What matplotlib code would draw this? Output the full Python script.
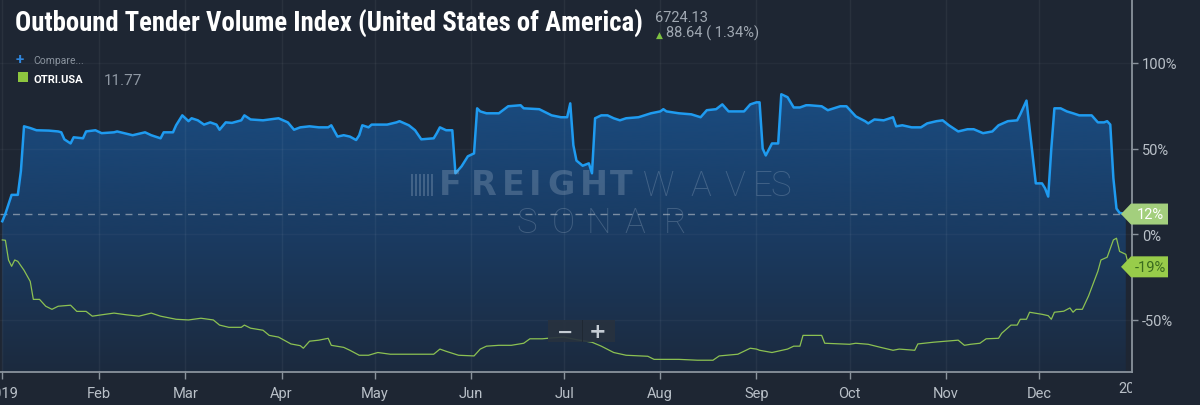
import matplotlib
matplotlib.use('Agg')
import numpy as np
from matplotlib import pyplot as plt
from matplotlib import font_manager
from matplotlib.colors import LinearSegmentedColormap
from matplotlib.patches import Polygon, Rectangle
from matplotlib.transforms import Bbox, TransformedBbox, blended_transform_factory

# =============================================================================
# data (x = days since 2019-01-01, y = change vs. year earlier in %)
# =============================================================================

otvi_points = [
    (0, 7.6), (1, 12), (3, 23), (5, 23), (6, 37), (7, 63), (9, 62), (11, 60.7), (15, 60.5),
    (18, 60), (19, 59.5), (20, 55.4), (22, 53), (23, 56.6), (26, 56), (27, 60), (30, 60.7),
    (32, 59), (36, 59.5), (37, 60), (42, 57.8), (46, 59.5), (48, 57.8), (51, 56), (52, 59.5),
    (55, 59.5), (56, 63.6), (58, 69.4), (60, 66), (61, 67.7), (63, 66.5), (65, 64), (67, 65.3),
    (69, 64), (70, 61), (72, 65.3), (74, 65), (77, 66.5), (78, 69.4), (80, 67), (84, 66.5),
    (86, 67), (89, 67.7), (92, 65.3), (94, 61), (96, 62.4), (99, 63), (102, 62.4), (105, 62.4),
    (106, 63.6), (108, 57), (110, 57.8), (112, 57), (114, 55), (115, 57.8), (116, 63.6),
    (118, 62.4), (119, 64), (124, 64), (127, 65.3), (128, 66), (131, 63.6), (133, 60.7),
    (135, 55.4), (139, 56), (140, 59), (141, 62.4), (143, 60.7), (145, 60.7), (146, 35.6),
    (148, 39.7), (150, 45.5), (152, 47.2), (153, 73.5), (154, 71.7), (156, 70.6), (160, 70.6),
    (163, 74.7), (167, 75.3), (168, 73.5), (173, 73), (177, 69.4), (180, 68.3), (182, 68.3),
    (183, 76.4), (184, 52), (185, 43), (187, 40), (189, 41.4), (190, 35.6), (191, 67.7),
    (193, 69.4), (195, 69.4), (197, 67.7), (199, 66.5), (201, 67.7), (205, 68.3), (209, 70.6),
    (212, 71.7), (213, 73), (214, 71.7), (218, 70.6), (222, 70), (225, 68.3), (227, 72.4),
    (230, 73), (232, 75.8), (234, 71.7), (239, 71.7), (241, 75.8), (243, 77), (244, 77),
    (245, 50), (246, 46), (248, 53), (250, 53), (251, 81.7), (253, 80), (255, 74), (257, 74),
    (259, 75.3), (260, 75.3), (264, 74.7), (266, 72.4), (270, 74.7), (272, 74.7), (275, 68.8),
    (278, 66), (279, 64.7), (281, 67), (284, 66.5), (287, 68.3), (288, 63), (290, 63.6),
    (293, 62.4), (296, 62.4), (298, 64.7), (301, 66), (303, 66.5), (305, 63.6), (308, 60),
    (311, 61.3), (313, 61.3), (316, 59), (319, 60), (321, 63.6), (324, 66), (327, 66.5),
    (328, 70), (330, 78), (331, 61.8), (332, 46), (333, 29.7), (335, 29.7), (336, 26.8),
    (337, 22), (338, 50), (339, 73.5), (341, 73.5), (343, 71.7), (345, 70.6), (347, 69.4),
    (351, 69.4), (353, 65.3), (355, 65.3), (356, 66), (357, 64), (358, 32.7), (359, 15),
    (360, 12.5), (362, 11.8),
]

otri_points = [
    (0, -3.3), (1, -3.5), (2, -15), (3, -18.7), (4, -15), (5, -15.8), (7, -21), (9, -27.5),
    (10, -38), (12, -38), (14, -42), (16, -43.8), (18, -42), (22, -41.4), (24, -45), (27, -45),
    (29, -47.8), (32, -47), (36, -46), (40, -47), (44, -47.8), (48, -46), (51, -47.8),
    (56, -49.6), (60, -50), (64, -49), (68, -50), (70, -53), (73, -54.3), (77, -54.3), (78, -53),
    (80, -54.8), (84, -56), (86, -59), (89, -60), (93, -64), (96, -65), (97, -66.5), (99, -62.4),
    (102, -61.8), (105, -60.7), (106, -64.8), (110, -66), (112, -67.7), (115, -70.6),
    (118, -70.6), (121, -69), (125, -70), (128, -70), (132, -70), (139, -70), (141, -67),
    (143, -68.3), (147, -70.6), (152, -71), (154, -67), (156, -65.3), (160, -64.8), (164, -64.8),
    (168, -63.6), (170, -61), (174, -61), (177, -60.5), (181, -60), (185, -61.5), (190, -63),
    (193, -65.3), (197, -69), (201, -70.6), (208, -71.2), (210, -73), (218, -73), (224, -73.5),
    (229, -73.5), (231, -71), (237, -70), (241, -66.5), (243, -67), (244, -67.7), (248, -69),
    (253, -67), (255, -65.3), (257, -65.3), (258, -59), (264, -59), (265, -63.6), (273, -64.2),
    (275, -63.6), (279, -64.2), (283, -66), (287, -67.7), (289, -67), (294, -67.7), (295, -64),
    (300, -63), (304, -62.4), (308, -61.8), (310, -64.8), (312, -64.2), (315, -63.6), (317, -61),
    (321, -60.7), (322, -57.8), (325, -53), (327, -53), (328, -49.6), (330, -49.6), (331, -45.5),
    (335, -46.7), (337, -47.5), (338, -49.6), (339, -45.5), (342, -44.9), (344, -43),
    (345, -45.5), (346, -43.8), (348, -43.8), (350, -36), (353, -21.6), (354, -15), (356, -13.4),
    (358, -3.3), (359, -2.3), (360, -10), (362, -11.7), (363, -19),
]

month_days = [0, 31, 59, 90, 120, 151, 181, 212, 243, 273, 304, 334]
month_labels = ['2019', 'Feb', 'Mar', 'Apr', 'May', 'Jun', 'Jul', 'Aug', 'Sep', 'Oct', 'Nov', 'Dec']
next_year_day = 365
next_year_label = '2020'
y_ticks = [-50, 0, 50, 100]

title = 'Outbound Tender Volume Index (United States of America)'
last_close = '6724.13'
last_change = '88.64 ( 1.34%)'
compare_label = 'Compare...'
otri_label = 'OTRI.USA'
otri_value = '11.77'

# =============================================================================
# style
# =============================================================================

W, H = 1200, 406
BG = '#1e2633'
BLUE = '#1f9bf0'
GREEN = '#8cc152'
AXIS = '#8a939d'
LABEL = '#b9c0c8'

plt.rcParams['font.family'] = ['Roboto', 'DejaVu Sans']

# pick a condensed bold face for the title if one is installed
installed = {f.name for f in font_manager.fontManager.ttflist}
narrow = [f for f in ['Roboto Condensed', 'Liberation Sans Narrow', 'Open Sans Condensed',
                      'DejaVu Sans Condensed'] if f in installed]
title_family = narrow[0] if narrow else 'Roboto'
title_size = 18


def fx(px):
    return px / W


def fy(py):
    return 1 - py / H


fig = plt.figure(figsize=(W / 100, H / 100), dpi=100, facecolor=BG)
ax = fig.add_axes([0, fy(372.7), fx(1132), 372.7 / H])
ax.set_facecolor(BG)

x_min, x_max = -0.74, 364.0
y_min, y_max = -80.2, 137.3

otvi_x = np.array([p[0] for p in otvi_points], dtype=float)
otvi_y = np.array([p[1] for p in otvi_points], dtype=float)
otri_x = np.array([p[0] for p in otri_points], dtype=float)
otri_y = np.array([p[1] for p in otri_points], dtype=float)

# gradient area under the OTVI line
verts = list(zip(otvi_x, otvi_y)) + [(otvi_x[-1], y_min), (otvi_x[0], y_min)]
area = Polygon(verts, closed=True, facecolor='none', edgecolor='none')
ax.add_patch(area)
cmap = LinearSegmentedColormap.from_list('fill', ['#1c2a3e', '#1a3b62', '#1a4b7f'])
grad = np.linspace(0, 1, 256).reshape(-1, 1)
im = ax.imshow(grad, extent=[x_min, x_max, y_min, 80], origin='lower', aspect='auto',
               cmap=cmap, zorder=1, interpolation='bicubic')
im.set_clip_path(area)
ax.fill_between(otvi_x, otvi_y, 80, where=otvi_y > 80, color='#1a4b7f', zorder=1, lw=0)

ax.axhline(otvi_y[-1], color='#8797aa', lw=1, ls=(0, (5, 4)), zorder=2, alpha=0.9)
ax.plot(otvi_x, otvi_y, color=BLUE, lw=1.8, zorder=4, solid_joinstyle='round')
ax.plot(otri_x, otri_y, color=GREEN, lw=0.9, zorder=4)

ax.set_xlim(x_min, x_max)
ax.set_ylim(y_min, y_max)

ax.set_xticks(month_days)
ax.set_xticklabels(month_labels)
ax.set_yticks(y_ticks)
ax.set_yticklabels(['{}%'.format(v) for v in y_ticks])
ax.yaxis.tick_right()
ax.tick_params(axis='x', direction='out', length=5, width=1, color=AXIS, labelcolor=LABEL,
               labelsize=10.5, pad=5)
ax.tick_params(axis='y', direction='out', length=4, width=1, color=AXIS, labelcolor=LABEL,
               labelsize=10.5, pad=3)
ax.grid(axis='x', color='white', alpha=0.05, lw=1, zorder=3)
ax.grid(axis='y', color='white', alpha=0.035, lw=1, zorder=3)
ax.set_axisbelow(False)
for side in ['top', 'left']:
    ax.spines[side].set_visible(False)
for side in ['right', 'bottom']:
    ax.spines[side].set_color(AXIS)
    ax.spines[side].set_linewidth(1.3)

# first tick of next year, cut at the right axis
lbl = fig.text(next_year_day, fy(389), next_year_label, ha='center', va='center',
               fontsize=10.5, color=LABEL,
               transform=blended_transform_factory(ax.transData, fig.transFigure))
lbl.set_clip_box(TransformedBbox(Bbox([[0, -1], [1, 2]]), ax.transAxes))
lbl.set_clip_on(True)


# =============================================================================
# last value tags
# =============================================================================

def value_tag(value, face, text_color):
    y_fig = fig.transFigure.inverted().transform(ax.transData.transform((0, value)))[1]
    h = 10.5 / H
    pts = [(fx(1121), y_fig), (fx(1131), y_fig - h), (fx(1168), y_fig - h),
           (fx(1168), y_fig + h), (fx(1131), y_fig + h)]
    fig.add_artist(Polygon(pts, closed=True, transform=fig.transFigure, facecolor=face,
                           edgecolor='none', zorder=5))
    fig.text(fx(1150), y_fig, '{:.0f}%'.format(value), ha='center', va='center',
             fontsize=10.5, color=text_color, zorder=6)


value_tag(otvi_y[-1], '#a3cf7d', 'white')
value_tag(otri_y[-1], '#98cc4a', '#3a6b1e')

# =============================================================================
# header texts
# =============================================================================

t = fig.text(fx(15), fy(32), title, fontsize=title_size, fontweight='bold', color='white',
             family=title_family, va='baseline')
# fit the title into its slot left of the quote
fig.canvas.draw()
tw = t.get_window_extent().width
t.set_fontsize(title_size * 630 / tw)

fig.text(fx(655), fy(21.5), last_close, fontsize=10.5, color='#a0a8b2', va='baseline')
fig.text(fx(656), fy(38), '▲', fontsize=6.5, color='#7dc142', va='baseline', family='DejaVu Sans')
fig.text(fx(666), fy(38), last_change, fontsize=10.5, color='#a0a8b2', va='baseline')

fig.text(fx(16), fy(64), '+', fontsize=11, fontweight='bold', color='#2f86de', va='baseline')
fig.text(fx(33), fy(64), compare_label, fontsize=7.5, color='#8a939e', va='baseline')
fig.add_artist(Rectangle((fx(18), fy(83)), fx(10), 10 / H, transform=fig.transFigure,
                         facecolor='#8dc63f', edgecolor='none'))
fig.text(fx(33), fy(83), otri_label, fontsize=8, fontweight='bold', color='white', va='baseline')
fig.text(fx(104), fy(85), otri_value, fontsize=11, color='#8f98a3', va='baseline')

# =============================================================================
# watermark
# =============================================================================

wm = dict(color='#b9c9da', alpha=0.25, ha='center', va='center', zorder=2)
for ch, cx in zip('FREIGHT', [450, 484, 513, 535, 561, 594, 621]):
    fig.text(fx(cx), fy(186), ch, fontsize=24, fontweight='heavy', family='DejaVu Sans', **wm)
for ch, cx in zip('WAVES', [659, 701, 735, 763, 781]):
    fig.text(fx(cx), fy(186), ch, fontsize=25, fontweight='light', **wm)
for ch, cx in zip('SONAR', [527, 563, 599, 635, 675]):
    fig.text(fx(cx), fy(223), ch, fontsize=25, fontweight='light', **wm)
for bx in [411, 415, 419, 423, 427, 431]:
    fig.add_artist(Rectangle((fx(bx), fy(197)), fx(2), 22 / H, transform=fig.transFigure,
                             facecolor='#b9c9da', alpha=0.25, edgecolor='none', zorder=2))

# =============================================================================
# zoom buttons
# =============================================================================

fig.add_artist(Rectangle((fx(548), fy(343)), fx(67), 22 / H, transform=fig.transFigure,
                         facecolor='#28323f', alpha=0.92, edgecolor='none', zorder=5))
fig.add_artist(Rectangle((fx(581.5), fy(343)), fx(1), 22 / H, transform=fig.transFigure,
                         facecolor='#1f2833', edgecolor='none', zorder=6))
fig.text(fx(565), fy(332), '−', fontsize=14, fontweight='bold', color='#c5ccd4',
         ha='center', va='center', zorder=7, family='DejaVu Sans')
fig.text(fx(598), fy(332), '+', fontsize=15, fontweight='bold', color='#c5ccd4',
         ha='center', va='center', zorder=7, family='DejaVu Sans')

fig.savefig('out.png', dpi=100, facecolor=BG)
